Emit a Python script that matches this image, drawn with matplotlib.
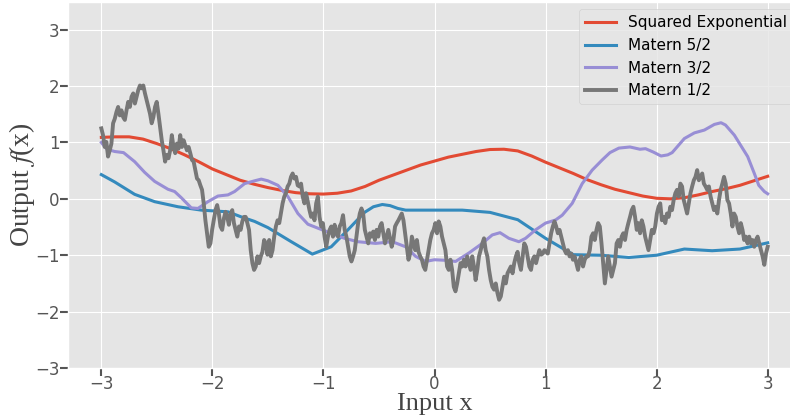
import numpy as np
import matplotlib
matplotlib.use("Agg")
import matplotlib.pyplot as plt

plt.style.use("ggplot")
plt.rcParams["mathtext.fontset"] = "stix"

# squared exponential sample
x_se = np.linspace(-3, 3, 49)
se = [1.09, 1.10, 1.10, 1.06, 0.98, 0.89, 0.78, 0.66, 0.53, 0.43,
      0.33, 0.26, 0.20, 0.15, 0.11, 0.09, 0.085, 0.10, 0.14, 0.22,
      0.33, 0.42, 0.51, 0.60, 0.67, 0.74, 0.79, 0.84, 0.875, 0.88,
      0.85, 0.76, 0.65, 0.55, 0.45, 0.34, 0.25, 0.17, 0.11, 0.05,
      0.01, 0.0, 0.02, 0.07, 0.13, 0.18, 0.24, 0.32, 0.40]

# matern 5/2 sample
x_m52 = [-3.0, -2.88, -2.70, -2.52, -2.31, -2.10, -1.86, -1.74, -1.62, -1.50,
         -1.29, -1.10, -0.93, -0.78, -0.63, -0.55, -0.47, -0.40, -0.33, -0.26,
         0.0, 0.25, 0.5, 0.75, 1.0, 1.25, 1.5, 1.75, 2.0, 2.25,
         2.5, 2.75, 3.0]
m52 = [0.43, 0.30, 0.08, -0.05, -0.14, -0.20, -0.23, -0.32, -0.40, -0.51,
       -0.76, -0.98, -0.85, -0.55, -0.24, -0.14, -0.10, -0.12, -0.17, -0.20,
       -0.20, -0.20, -0.24, -0.37, -0.70, -0.99, -1.0, -1.04, -1.0, -0.89,
       -0.92, -0.89, -0.78]

# matern 3/2 sample
x_m32 = [-3.0, -2.95, -2.88, -2.80, -2.70, -2.61, -2.52, -2.40, -2.34, -2.28,
         -2.19, -2.13, -2.04, -1.95, -1.86, -1.80, -1.71, -1.62, -1.56, -1.50,
         -1.41, -1.32, -1.23, -1.14, -1.05, -0.93, -0.81, -0.69, -0.53, -0.38,
         -0.26, -0.17, -0.08, 0.0, 0.10, 0.19, 0.31, 0.43, 0.52, 0.59,
         0.67, 0.76, 0.82, 0.91, 1.0, 1.09, 1.15, 1.24, 1.33, 1.42,
         1.51, 1.58, 1.66, 1.76, 1.85, 1.90, 1.97, 2.04, 2.10, 2.14,
         2.25, 2.34, 2.43, 2.52, 2.58, 2.62, 2.70, 2.82, 2.88, 2.92,
         2.97, 3.0]
m32 = [1.0, 0.88, 0.84, 0.82, 0.66, 0.47, 0.31, 0.17, 0.13, 0.02,
       -0.16, -0.17, -0.05, 0.05, 0.07, 0.13, 0.27, 0.32, 0.35, 0.32,
       0.24, 0.04, -0.26, -0.45, -0.52, -0.61, -0.70, -0.76, -0.79, -0.76,
       -0.85, -1.02, -1.11, -1.08, -1.09, -1.11, -0.96, -0.79, -0.64, -0.60,
       -0.70, -0.76, -0.70, -0.55, -0.43, -0.375, -0.29, -0.08, 0.27, 0.51,
       0.69, 0.82, 0.90, 0.92, 0.88, 0.89, 0.83, 0.76, 0.78, 0.82,
       1.07, 1.17, 1.22, 1.32, 1.35, 1.31, 1.13, 0.75, 0.45, 0.24,
       0.13, 0.09]

# matern 1/2 sample (rough)
m12 = [1.25, 1.13, 0.92, 1.01, 0.75, 0.86, 0.98, 1.34,
       1.42, 1.54, 1.63, 1.48, 1.57, 1.45, 1.40, 1.57, 1.72, 1.63, 1.81, 1.87,
       1.69, 1.81, 1.93, 2.01, 1.96, 2.01, 1.87, 1.75, 1.63, 1.51, 1.34, 1.45,
       1.63, 1.72, 1.51, 1.28, 1.04, 0.86, 0.66, 0.78, 0.72, 0.86, 1.13, 0.92,
       0.81, 0.98, 0.89, 1.13, 0.92, 1.04, 0.95, 0.86, 0.92, 0.81, 0.69, 0.66,
       0.51, 0.36, 0.33, 0.24, 0.16, -0.08, -0.38, -0.61, -0.85, -0.79, -0.55,
       -0.38, -0.20, -0.11, -0.26, -0.49, -0.55, -0.35, -0.23, -0.32, -0.46,
       -0.26, -0.20, -0.43, -0.55, -0.67, -0.49, -0.55, -0.40, -0.32, -0.32,
       -0.43, -0.55, -0.91, -1.14, -1.26, -1.20, -1.02, -1.14, -1.02, -0.94,
       -0.73,
       -0.79, -0.99, -0.73, -1.02, -0.91, -0.67, -0.49, -0.38, -0.43, -0.26,
       -0.08, 0.04, 0.10, 0.22, 0.27, 0.39, 0.45, 0.36, 0.39, 0.24, 0.22, 0.27,
       0.04, -0.08, 0.10, -0.05, -0.20, -0.32, -0.26, -0.38, -0.08, 0.04, -0.32,
       -0.49, -0.43, -0.67, -0.85, -0.67, -0.55, -0.49, -0.67, -0.46, -0.61,
       -0.67, -0.49, -0.43, -0.29, -0.55, -0.67, -0.85, -1.02, -1.11, -1.02,
       -0.91, -0.67, -0.43, -0.26, -0.17, -0.26, -0.55, -0.67, -0.79, -0.61,
       -0.67, -0.58, -0.73, -0.55, -0.67, -0.49, -0.43, -0.61, -0.79, -0.67,
       -0.55, -0.70, -0.85, -0.73, -0.49, -0.43, -0.38, -0.32, -0.26, -0.38,
       -0.61, -0.85, -1.08, -0.97, -0.67, -0.79, -0.91, -0.73, -0.94, -1.02,
       -1.08, -1.20, -1.26, -1.08, -0.91, -0.73, -0.61,
       -0.55, -0.43, -0.61, -0.40, -0.49, -0.67, -0.79, -0.91, -1.20, -1.26,
       -1.08, -1.26, -1.56, -1.64, -1.50, -1.32, -1.14, -1.20, -1.08, -1.20,
       -1.02, -1.14, -1.26, -1.02, -1.20, -1.44, -1.26, -1.02, -0.91, -0.79,
       -0.70, -0.91, -1.02, -1.26, -1.44, -1.56, -1.61, -1.50, -1.67, -1.79,
       -1.73, -1.56, -1.38, -1.50, -1.32, -1.26, -1.20, -1.32, -1.14, -1.02,
       -0.94, -1.14, -1.26, -1.02, -0.79, -0.85, -1.02, -1.20, -1.26, -1.08,
       -1.02, -1.14, -1.02, -0.91, -0.99, -0.97, -0.91, -0.94, -0.97, -0.79,
       -0.61, -0.49, -0.40, -0.49, -0.61, -0.55, -0.67, -0.79, -0.91, -0.97,
       -0.91, -1.02, -0.97, -1.08, -1.02, -1.14, -1.26, -1.08, -1.02, -1.20,
       -1.08, -1.02, -1.02, -0.91, -0.67, -0.61, -0.73, -0.55, -0.43, -0.49,
       -0.79,
       -1.14, -1.50, -1.26, -1.02, -1.20, -1.38, -1.26, -1.14, -0.79, -0.73,
       -0.85, -0.67, -0.61, -0.73, -0.55, -0.43, -0.32, -0.20, -0.14, -0.32,
       -0.55, -0.43, -0.61, -0.38, -0.49, -0.67, -0.79, -0.91, -0.73, -0.55,
       -0.61, -0.49, -0.26, -0.14, -0.08, -0.38, -0.32, -0.43, -0.26, -0.32,
       -0.14, -0.20, -0.02, 0.10, 0.16, 0.04, 0.27, 0.22, -0.02, -0.14,
       -0.26, -0.08, 0.10, 0.22, 0.33, 0.39, 0.51, 0.33, 0.39, 0.45,
       0.27, 0.22, 0.16, 0.22, 0.04, -0.08, -0.20, -0.14, -0.26, -0.02,
       0.16, 0.27, 0.39, 0.27, -0.02, -0.08, -0.26, -0.49, -0.26, -0.32,
       -0.49, -0.61, -0.43, -0.55, -0.73, -0.67, -0.79, -0.67, -0.79, -0.73,
       -0.85, -0.73, -0.67, -0.79, -0.91, -1.02, -1.17, -0.97, -0.85]
x_m12 = np.linspace(-3, 3, len(m12))

fig = plt.figure(figsize=(7.9, 4.18), dpi=100)
ax = fig.add_axes([0.0861, 0.1196, 0.9278, 0.8768])

ax.plot(x_se, se, color="#E24A33", lw=2.2, label="Squared Exponential")
ax.plot(x_m52, m52, color="#348ABD", lw=2.2, label="Matern 5/2")
ax.plot(x_m32, m32, color="#988ED5", lw=2.2, label="Matern 3/2")
ax.plot(x_m12, m12, color="#777777", lw=2.8, label="Matern 1/2")

ax.set_xlim(-3.3, 3.3)
ax.set_ylim(-3, 3.5)
ax.set_xticks(range(-3, 4))
ax.set_yticks(range(-3, 4))
ax.tick_params(length=6, width=1.5, color="#555555", labelsize=12, labelcolor="#555555")
ax.tick_params(axis="x", pad=-1)
ax.tick_params(axis="y", pad=0)

ax.set_xlabel("Input x", family="Liberation Serif", fontsize=19, color="#444444", labelpad=0)
ax.set_ylabel("Output $f$(x)", family="Liberation Serif", fontsize=20, color="#444444", labelpad=-1)

ax.legend(loc="upper right", fontsize=11)

fig.savefig("out.png", dpi=100)
